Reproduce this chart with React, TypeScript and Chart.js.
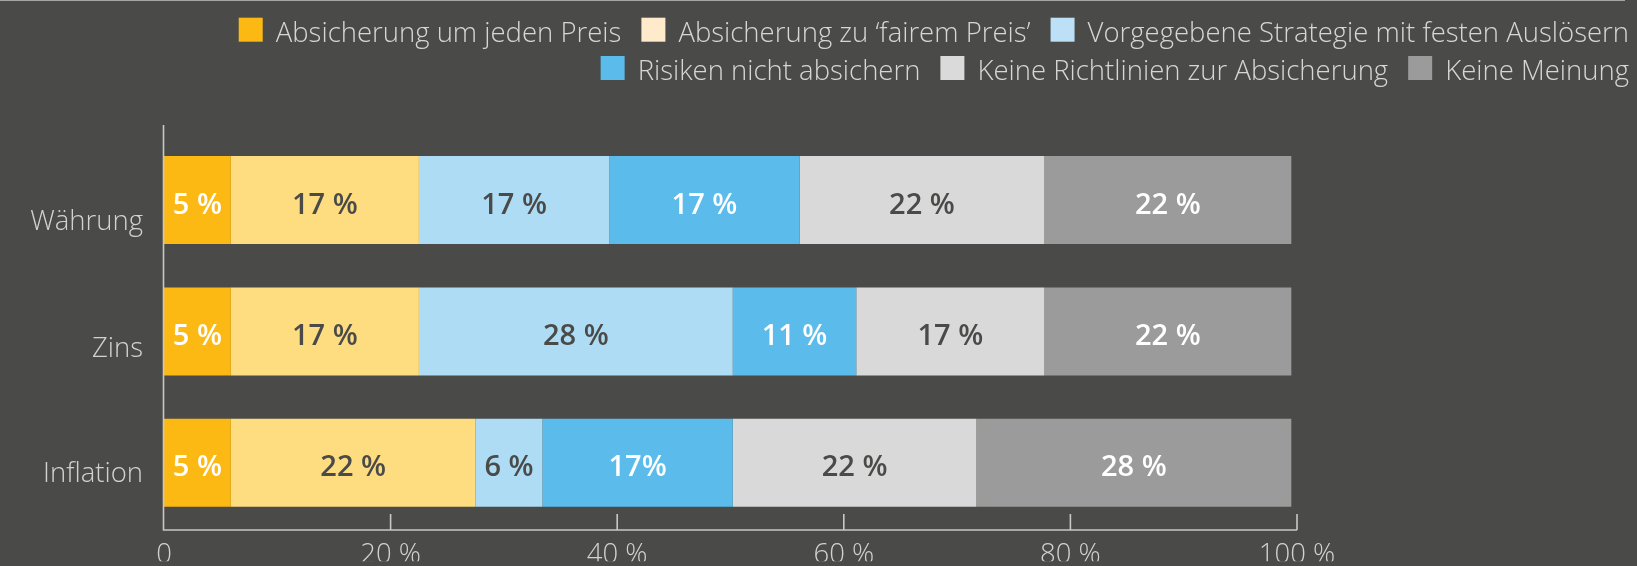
import { useEffect, useRef } from 'react';
import { Chart, registerables } from 'chart.js';

Chart.register(...registerables);

const FONT = "'Open Sans', 'DejaVu Sans', sans-serif";

// ---------- data ----------
const categories = ['Währung', 'Zins', 'Inflation'];

const seriesNames = [
  'Absicherung um jeden Preis',
  'Absicherung zu \u2018fairem Preis\u2019',
  'Vorgegebene Strategie mit festen Auslösern',
  'Risiken nicht absichern',
  'Keine Richtlinien zur Absicherung',
  'Keine Meinung',
];

const absicherungUmJedenPreis = [5.9, 5.9, 5.9];
const absicherungFairerPreis = [16.6, 16.6, 21.6];
const vorgegebeneStrategie = [16.8, 27.7, 5.9];
const risikenNichtAbsichern = [16.8, 10.9, 16.8];
const keineRichtlinien = [21.6, 16.6, 21.5];
const keineMeinung = [21.8, 21.8, 27.8];

const labelsUmJedenPreis = ['5 %', '5 %', '5 %'];
const labelsFairerPreis = ['17 %', '17 %', '22 %'];
const labelsStrategie = ['17 %', '28 %', '6 %'];
const labelsNichtAbsichern = ['17 %', '11 %', '17%'];
const labelsRichtlinien = ['22 %', '17 %', '22 %'];
const labelsMeinung = ['22 %', '22 %', '28 %'];

const xTickValues = [0, 20, 40, 60, 80, 100];
const xTickLabels = ['0', '20 %', '40 %', '60 %', '80 %', '100 %'];

// ---------- styles ----------
const barColors = ['#FDB913', '#FEDC80', '#ADDCF4', '#5BBBEB', '#D9D9D9', '#9A9B9A'];
const legendColors = ['#FDB913', '#FFEBCB', '#BDE0F7', '#5BBBEB', '#DADADA', '#9A9B9A'];
const valueLabelColors = ['#FFFFFF', '#4A4A48', '#4A4A48', '#FFFFFF', '#4A4A48', '#FFFFFF'];
// vertical placement of the category labels (in band units, as in the original layout)
const categoryLabelOffsets = [0.17, 1.138, 2.088];

const seriesValues = [
  absicherungUmJedenPreis,
  absicherungFairerPreis,
  vorgegebeneStrategie,
  risikenNichtAbsichern,
  keineRichtlinien,
  keineMeinung,
];
const seriesLabels = [
  labelsUmJedenPreis,
  labelsFairerPreis,
  labelsStrategie,
  labelsNichtAbsichern,
  labelsRichtlinien,
  labelsMeinung,
];

const decorPlugin = {
  id: 'decor',
  afterDatasetsDraw(chart: any) {
    const ctx = chart.ctx;
    ctx.save();
    ctx.font = `600 29px ${FONT}`;
    ctx.textAlign = 'center';
    ctx.textBaseline = 'alphabetic';
    chart.data.datasets.forEach((_ds: any, i: number) => {
      const meta = chart.getDatasetMeta(i);
      meta.data.forEach((bar: any, j: number) => {
        const p = bar.getProps(['x', 'y', 'base'], true);
        ctx.fillStyle = valueLabelColors[i];
        ctx.fillText(seriesLabels[i][j], (p.x + p.base) / 2, p.y + 13.5);
      });
    });
    ctx.restore();
  },
  afterDraw(chart: any) {
    const ctx = chart.ctx;
    const area = chart.chartArea;
    const xs = chart.scales.x;
    ctx.save();
    // top frame line
    ctx.fillStyle = '#A5A5A5';
    ctx.fillRect(0, 0, 1625, 1);

    // axes
    const axisY = 530;
    const left = area.left - 0.5;
    ctx.strokeStyle = '#C8C8C8';
    ctx.lineWidth = 1.6;
    ctx.beginPath();
    ctx.moveTo(left, 125);
    ctx.lineTo(left, axisY);
    ctx.lineTo(xs.getPixelForValue(100), axisY);
    xTickValues.forEach((v) => {
      if (v === 0) return;
      const px = xs.getPixelForValue(v);
      ctx.moveTo(px, axisY);
      ctx.lineTo(px, axisY - 16);
    });
    ctx.stroke();

    // legend (two right-aligned rows)
    ctx.font = `300 27.5px ${FONT}`;
    ctx.textBaseline = 'alphabetic';
    ctx.textAlign = 'left';
    const rows = [
      { items: [0, 1, 2], base: 41.7 },
      { items: [3, 4, 5], base: 80 },
    ];
    const box = 24;
    const textGap = 13;
    const itemGap = 20;
    const rightEdge = 1629;
    rows.forEach((row) => {
      const widths = row.items.map((k) => box + textGap + ctx.measureText(seriesNames[k]).width);
      const total = widths.reduce((a, b) => a + b, 0) + itemGap * (widths.length - 1);
      let x = rightEdge - total;
      row.items.forEach((k, idx) => {
        ctx.fillStyle = legendColors[k];
        ctx.fillRect(x, row.base - box, box, box);
        ctx.fillStyle = '#D6D6D6';
        ctx.fillText(seriesNames[k], x + box + textGap, row.base);
        x += widths[idx] + itemGap;
      });
    });
    ctx.restore();
  },
};

export default function App() {
  const canvasRef = useRef<HTMLCanvasElement | null>(null);

  useEffect(() => {
    if (!canvasRef.current) return;
    Chart.defaults.font.family = FONT;
    const chart = new Chart(canvasRef.current, {
      type: 'bar',
      data: {
        labels: categories,
        datasets: seriesValues.map((vals, i) => ({
          label: seriesNames[i],
          data: vals,
          backgroundColor: barColors[i],
          borderWidth: 0,
          barPercentage: 0.7045,
          categoryPercentage: 1,
        })),
      },
      options: {
        animation: false,
        responsive: true,
        maintainAspectRatio: false,
        indexAxis: 'y',
        events: [],
        layout: { padding: { top: 134.35, right: 340, bottom: 0, left: 0 } },
        plugins: {
          legend: { display: false },
          tooltip: { enabled: false },
          title: { display: false },
        },
        scales: {
          x: {
            type: 'linear',
            stacked: true,
            min: 0,
            max: 100,
            grid: { display: false, drawTicks: false },
            border: { display: false },
            afterBuildTicks: (scale: any) => {
              scale.ticks = xTickValues.map((v) => ({ value: v }));
            },
            afterFit: (scale: any) => {
              scale.height = 566 - 533.35;
            },
            ticks: {
              color: '#D2D2D2',
              font: { size: 27.5, weight: '300' },
              padding: 10,
              maxRotation: 0,
              autoSkip: false,
              callback: (_v: any, i: number) => xTickLabels[i],
            },
          },
          y: {
            type: 'category',
            stacked: true,
            grid: { display: false, drawTicks: false },
            border: { display: false },
            afterBuildTicks: (scale: any) => {
              scale.ticks = categoryLabelOffsets.map((v) => ({ value: v }));
            },
            afterFit: (scale: any) => {
              scale.width = 164;
            },
            ticks: {
              color: '#D2D2D2',
              font: { size: 27.5, weight: '300' },
              padding: 21,
              autoSkip: false,
              callback: (_v: any, i: number) => categories[i],
            },
          },
        },
      } as any,
      plugins: [decorPlugin],
    });
    return () => chart.destroy();
  }, []);

  return (
    <div style={{ position: 'fixed', inset: 0, background: '#4A4A48' }}>
      <canvas ref={canvasRef} />
    </div>
  );
}
